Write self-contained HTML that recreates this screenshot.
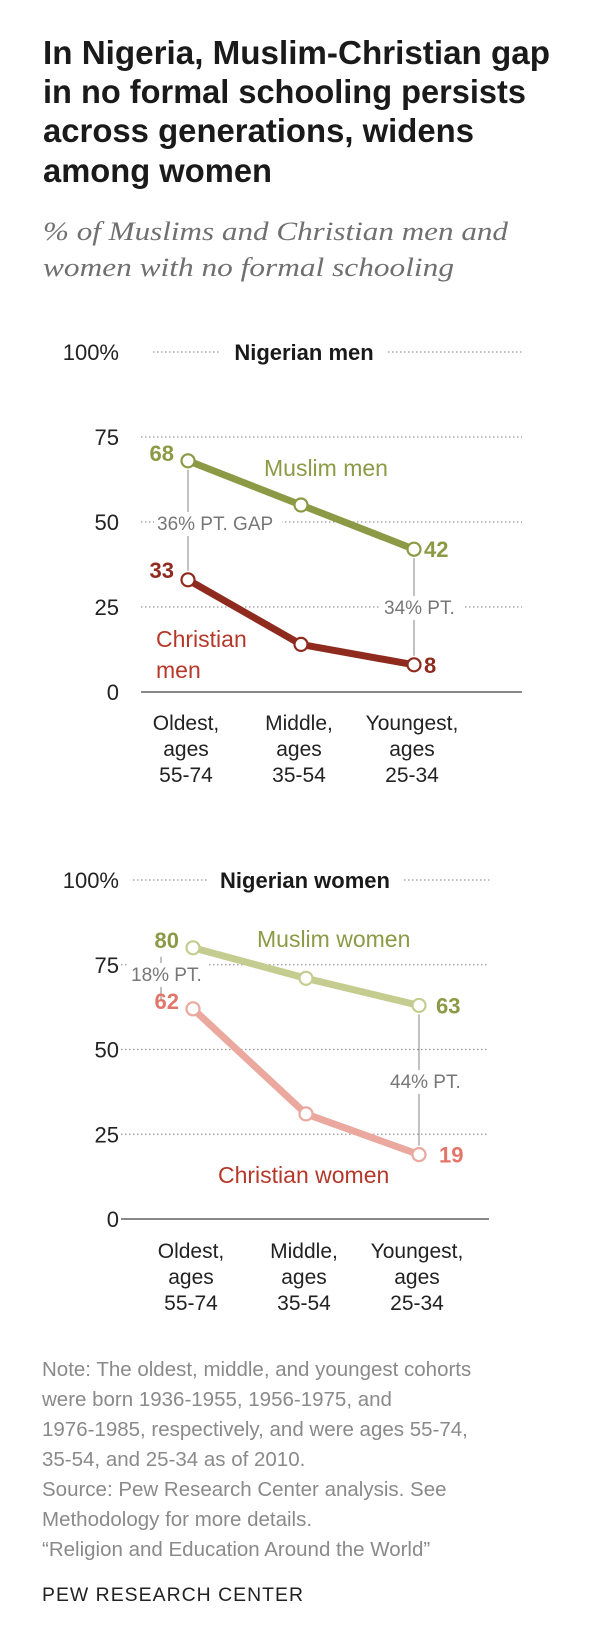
<!DOCTYPE html>
<html><head><meta charset="utf-8"><style>
body{margin:0;background:#fff;}
svg{display:block;font-family:"Liberation Sans",sans-serif;}
</style></head><body>
<svg id="chart" width="601" height="1634" viewBox="0 0 601 1634" xmlns="http://www.w3.org/2000/svg">
<g font-weight="bold" font-size="33" fill="#1a1a1a">
<text x="43" y="64" textLength="507" lengthAdjust="spacingAndGlyphs">In Nigeria, Muslim-Christian gap</text>
<text x="43" y="103" textLength="483" lengthAdjust="spacingAndGlyphs">in no formal schooling persists</text>
<text x="43" y="142" textLength="431" lengthAdjust="spacingAndGlyphs">across generations, widens</text>
<text x="43" y="182" textLength="229" lengthAdjust="spacingAndGlyphs">among women</text>
</g>
<g font-family="Liberation Serif, serif" font-style="italic" font-size="26" fill="#707070">
<text x="43" y="240" textLength="465" lengthAdjust="spacingAndGlyphs">% of Muslims and Christian men and</text>
<text x="43" y="276" textLength="411" lengthAdjust="spacingAndGlyphs">women with no formal schooling</text>
</g>
<g id="men"></g>
<g id="women"></g>
<g font-size="20.5" fill="#8a8a8a">
<text x="42" y="1376">Note: The oldest, middle, and youngest cohorts</text>
<text x="42" y="1406">were born 1936-1955, 1956-1975, and</text>
<text x="42" y="1436">1976-1985, respectively, and were ages 55-74,</text>
<text x="42" y="1466">35-54, and 25-34 as of 2010.</text>
<text x="42" y="1496">Source: Pew Research Center analysis. See</text>
<text x="42" y="1526">Methodology for more details.</text>
<text x="42" y="1556">“Religion and Education Around the World”</text>
</g>
<text x="42" y="1601" font-size="19" fill="#222" letter-spacing="1" textLength="262" lengthAdjust="spacingAndGlyphs">PEW RESEARCH CENTER</text>
</svg>
<script>
const categories = ["Oldest,|ages|55-74","Middle,|ages|35-54","Youngest,|ages|25-34"];
const yTicks = [0,25,50,75,100];
const yTickLabels = ["0","25","50","75","100%"];
const menMuslim = [68,55,42];
const menChristian = [33,14,8];
const womenMuslim = [80,71,63];
const womenChristian = [62,31,19];
const NS="http://www.w3.org/2000/svg";
function mk(parent,tag,attrs,text){const e=document.createElementNS(NS,tag);for(const k in attrs)e.setAttribute(k,attrs[k]);if(text!==undefined)e.textContent=text;parent.appendChild(e);return e;}

function panel(g,cfg){
  const y=v=>cfg.y0-v*(cfg.y0-cfg.y100)/100;
  const x=i=>cfg.xs[0]+i*(cfg.xs[1]-cfg.xs[0]);
  yTicks.forEach((t,i)=>{
    const lab=mk(g,'text',{x:cfg.tickX,y:y(t)+8,'text-anchor':'end','font-size':22,fill:'#222'},yTickLabels[i]);
    
    
    if(t===0){
      const a=mk(g,'line',{x1:cfg.ax0,x2:cfg.ax1,y1:y(0),y2:y(0),stroke:'#888','stroke-width':2});
      
      
    } else if(t===100){
      cfg.topSegs.forEach(s=>{
        const l=mk(g,'line',{x1:s[0],x2:s[1],y1:y(100),y2:y(100),stroke:'#999','stroke-width':1.3,'stroke-dasharray':'1.5 2.5'});
        
        
      });
    } else {
      const l=mk(g,'line',{x1:cfg.gx0,x2:cfg.ax1,y1:y(t),y2:y(t),stroke:'#999','stroke-width':1.3,'stroke-dasharray':'1.5 2.5'});
      
      
    }
  });
  const pt=mk(g,'text',{x:cfg.titleX,y:y(100)+8,'text-anchor':'middle','font-size':22,'font-weight':'bold',fill:'#1a1a1a'},cfg.title);
  
  
  categories.forEach((c,i)=>{
    c.split('|').forEach((ln,j)=>{
      const t=mk(g,'text',{x:x(i)-2,y:cfg.catY+j*26,'text-anchor':'middle','font-size':21,fill:'#222'},ln);
      
      
    });
  });
  cfg.gaps.forEach(gp=>{
    const a=cfg.series[0].vals[gp.i], b=cfg.series[1].vals[gp.i];
    const l=mk(g,'line',{x1:x(gp.i)+gp.dx,x2:x(gp.i)+gp.dx,y1:y(a)+9,y2:y(b)-9,stroke:'#999','stroke-width':1.2});
    
    
    const ty=gp.ty!==undefined?gp.ty:(y(a)+y(b))/2;
    const bg=mk(g,'rect',{x:gp.tx-3,y:ty-18,width:gp.tw,height:24,fill:'#fff'});
    
    
    const t=mk(g,'text',{x:gp.tx,y:ty,'font-size':19,fill:'#777'},gp.label);
    
    
  });
  cfg.series.forEach(s=>{
    const pl=mk(g,'polyline',{points:s.vals.map((v,i)=>x(i)+','+y(v)).join(' '),fill:'none',stroke:s.color,'stroke-width':7,'stroke-linejoin':'round'});
    
    
    s.vals.forEach((v,i)=>{
      const c=mk(g,'circle',{cx:x(i),cy:y(v),r:6.5,fill:'#fff',stroke:s.color,'stroke-width':2.2});
      
      
    });
    const f=mk(g,'text',{x:x(0)-14,y:y(s.vals[0])+s.fdy,'text-anchor':'end','font-size':22,'font-weight':'bold',fill:s.lcolor},String(s.vals[0]));
    
    
    const la=mk(g,'text',{x:x(2)+s.ldx,y:y(s.vals[2])+8,'font-size':22,'font-weight':'bold',fill:s.lcolor},String(s.vals[2]));
    
    
    s.label.forEach((ln,j)=>{
      const t=mk(g,'text',{x:s.lx,y:s.ly+j*31,'font-size':23,fill:s.tcolor},ln);
      
      
    });
  });
}

panel(document.getElementById('men'),{
  y0:692,y100:352,xs:[188,301],tickX:119,ax0:141,ax1:522,gx0:141,
  topSegs:[[153,220],[388,522]],title:'Nigerian men',titleX:304,catY:730,
  gaps:[{i:0,dx:0,label:'36% PT. GAP',tx:157,tw:128,ty:530},{i:2,dx:0,label:'34% PT.',tx:384,tw:84,ty:614}],
  series:[
    {name:'muslim-men',vals:menMuslim,color:'#8c9a45',lcolor:'#8c9a45',tcolor:'#8c9a45',fdy:0,ldx:10,label:['Muslim men'],lx:264,ly:476},
    {name:'christian-men',vals:menChristian,color:'#8f2a1e',lcolor:'#8f2a1e',tcolor:'#b5382a',fdy:-2,ldx:10,label:['Christian','men'],lx:156,ly:647}
  ]
});
panel(document.getElementById('women'),{
  y0:1219,y100:880,xs:[193,306],tickX:119,ax0:121,ax1:489,gx0:121,
  topSegs:[[133,207],[404,490]],title:'Nigerian women',titleX:305,catY:1258,
  gaps:[{i:0,dx:-32,label:'18% PT.',tx:131,tw:80,ty:981},{i:2,dx:0,label:'44% PT.',tx:390,tw:84,ty:1088}],
  series:[
    {name:'muslim-women',vals:womenMuslim,color:'#c5cc8f',lcolor:'#8c9a45',tcolor:'#8c9a45',fdy:0,ldx:17,label:['Muslim women'],lx:257,ly:947},
    {name:'christian-women',vals:womenChristian,color:'#eaa89e',lcolor:'#e2766a',tcolor:'#b5382a',fdy:0,ldx:20,label:['Christian women'],lx:218,ly:1183}
  ]
});
</script>
</body></html>
